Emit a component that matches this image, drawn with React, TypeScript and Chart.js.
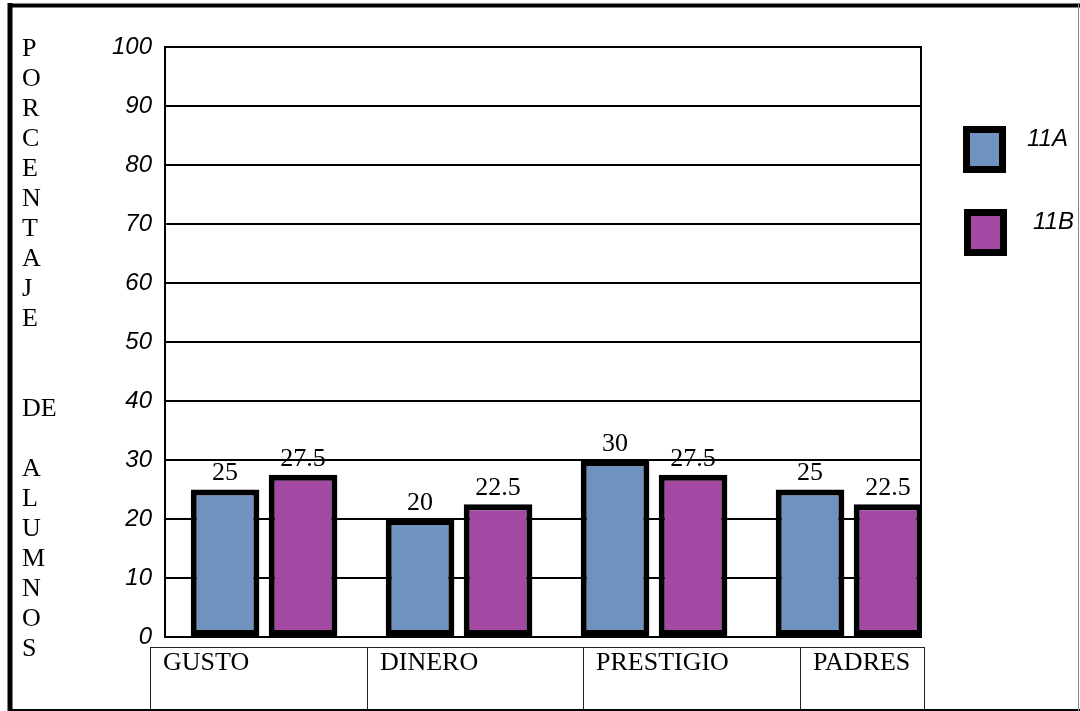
import React, { useEffect, useRef } from "react";
import { Chart, registerables } from "chart.js";

Chart.register(...registerables);

const categories = ["GUSTO", "DINERO", "PRESTIGIO", "PADRES"];
const seriesNames = ["11A", "11B"];
const values11A = [25, 20, 30, 25];
const values11B = [27.5, 22.5, 27.5, 22.5];
const seriesColors = ["#7092be", "#a349a4"];
const yMin = 0;
const yMax = 100;
const yStep = 10;
const axisTitleLines = [
  "P", "O", "R", "C", "E", "N", "T", "A", "J", "E",
  "", "", "DE", "", "A", "L", "U", "M", "N", "O", "S",
];

const SERIF = "'Liberation Serif', 'Times New Roman', serif";
const SANS = "'Liberation Sans', Arial, sans-serif";

// layout constants (pixels)
const CELL_EDGES = [150, 367, 583, 800, 924];

const decorPlugin = {
  id: "decor",
  afterDraw(chart: any) {
    const ctx = chart.ctx as CanvasRenderingContext2D;
    const area = chart.chartArea;
    ctx.save();

    // right frame line of the plot
    ctx.strokeStyle = "#000";
    ctx.lineWidth = 2;
    ctx.beginPath();
    ctx.moveTo(area.right, area.top - 1);
    ctx.lineTo(area.right, area.bottom + 1);
    ctx.stroke();

    // vertical axis title, one letter per line
    ctx.fillStyle = "#000";
    ctx.font = `26px ${SERIF}`;
    ctx.textAlign = "left";
    ctx.textBaseline = "middle";
    axisTitleLines.forEach((t, i) => {
      if (t) ctx.fillText(t, 22, area.top + 2 + i * 30);
    });

    // value labels above bars
    ctx.font = `26px ${SERIF}`;
    ctx.textAlign = "center";
    ctx.textBaseline = "middle";
    chart.data.datasets.forEach((ds: any, di: number) => {
      const meta = chart.getDatasetMeta(di);
      meta.data.forEach((el: any, i: number) => {
        const v = ds.data[i].y;
        ctx.fillText(String(v), el.x, el.y - 16);
      });
    });

    // legend
    const legendY = [126, 209];
    const legendBoxX = [963, 964];
    const legendTextX = [1027, 1033];
    chart.data.datasets.forEach((ds: any, di: number) => {
      const x = legendBoxX[di];
      const y = legendY[di];
      ctx.fillStyle = "#000";
      ctx.fillRect(x, y, 43, 47);
      ctx.fillStyle = ds.backgroundColor;
      ctx.fillRect(x + 7, y + 7, 29, 33);
      ctx.fillStyle = "#000";
      ctx.font = `italic 24px ${SANS}`;
      ctx.textAlign = "left";
      ctx.textBaseline = "middle";
      ctx.fillText(ds.label, legendTextX[di], y + 13);
    });

    // category table under the plot
    const tableTop = area.bottom + 10;
    const tableBottom = chart.height;
    ctx.strokeStyle = "#222";
    ctx.lineWidth = 1;
    ctx.beginPath();
    ctx.moveTo(CELL_EDGES[0], tableTop + 0.5);
    ctx.lineTo(CELL_EDGES[CELL_EDGES.length - 1], tableTop + 0.5);
    CELL_EDGES.forEach((x) => {
      ctx.moveTo(x + 0.5, tableTop);
      ctx.lineTo(x + 0.5, tableBottom);
    });
    ctx.stroke();
    ctx.fillStyle = "#000";
    ctx.font = `26px ${SERIF}`;
    ctx.textAlign = "left";
    ctx.textBaseline = "middle";
    categories.forEach((c, i) => {
      ctx.fillText(c, CELL_EDGES[i] + 13, tableTop + 16);
    });

    // outer picture frame
    ctx.strokeStyle = "#000";
    ctx.lineWidth = 5;
    ctx.beginPath();
    ctx.moveTo(10, 3);
    ctx.lineTo(10, chart.height);
    ctx.stroke();
    ctx.lineWidth = 4;
    ctx.beginPath();
    ctx.moveTo(8, 5.5);
    ctx.lineTo(chart.width, 5.5);
    ctx.stroke();
    ctx.lineWidth = 2;
    ctx.beginPath();
    ctx.moveTo(8, chart.height - 1);
    ctx.lineTo(chart.width, chart.height - 1);
    ctx.stroke();
    ctx.strokeStyle = "#888";
    ctx.lineWidth = 1;
    ctx.beginPath();
    ctx.moveTo(chart.width - 1.5, 4);
    ctx.lineTo(chart.width - 1.5, chart.height);
    ctx.stroke();

    ctx.restore();
  },
};

export default function App() {
  const canvasRef = useRef<HTMLCanvasElement>(null);

  useEffect(() => {
    const canvas = canvasRef.current;
    if (!canvas) return;
    const seriesValues = [values11A, values11B];
    const chart = new Chart(canvas, {
      type: "bar",
      data: {
        datasets: seriesNames.map((name, si) => ({
          label: name,
          data: categories.map((_, i) => ({ x: i, y: seriesValues[si][i] })),
          backgroundColor: seriesColors[si],
          borderColor: "#000",
          borderWidth: 6,
          borderSkipped: false,
          categoryPercentage: 0.8,
          barPercentage: 0.88,
        })),
      },
      options: {
        responsive: false,
        animation: false,
        layout: { padding: { top: 47, right: 159, bottom: 74, left: 0 } },
        scales: {
          x: {
            type: "linear",
            min: -0.508,
            max: 3.369,
            offset: false,
            bounds: "data",
            display: false,
            grid: { offset: false },
            afterBuildTicks: (scale: any) => {
              scale.ticks = categories.map((_, i) => ({ value: i }));
            },
          },
          y: {
            min: yMin,
            max: yMax,
            ticks: {
              stepSize: yStep,
              padding: 13,
              color: "#000",
              font: { family: SANS, size: 24, style: "italic" },
            },
            grid: { color: "#000", lineWidth: 2, drawTicks: false },
            border: { display: true, color: "#000", width: 2 },
            afterFit: (scale: any) => {
              scale.width = 165;
            },
          },
        },
        plugins: {
          legend: { display: false },
          tooltip: { enabled: false },
        },
      } as any,
      plugins: [decorPlugin],
    });
    return () => chart.destroy();
  }, []);

  return (
    <div style={{ position: "absolute", left: 0, top: 0, width: 1080, height: 711, background: "#fff" }}>
      <canvas ref={canvasRef} width={1080} height={711} style={{ display: "block" }} />
    </div>
  );
}
